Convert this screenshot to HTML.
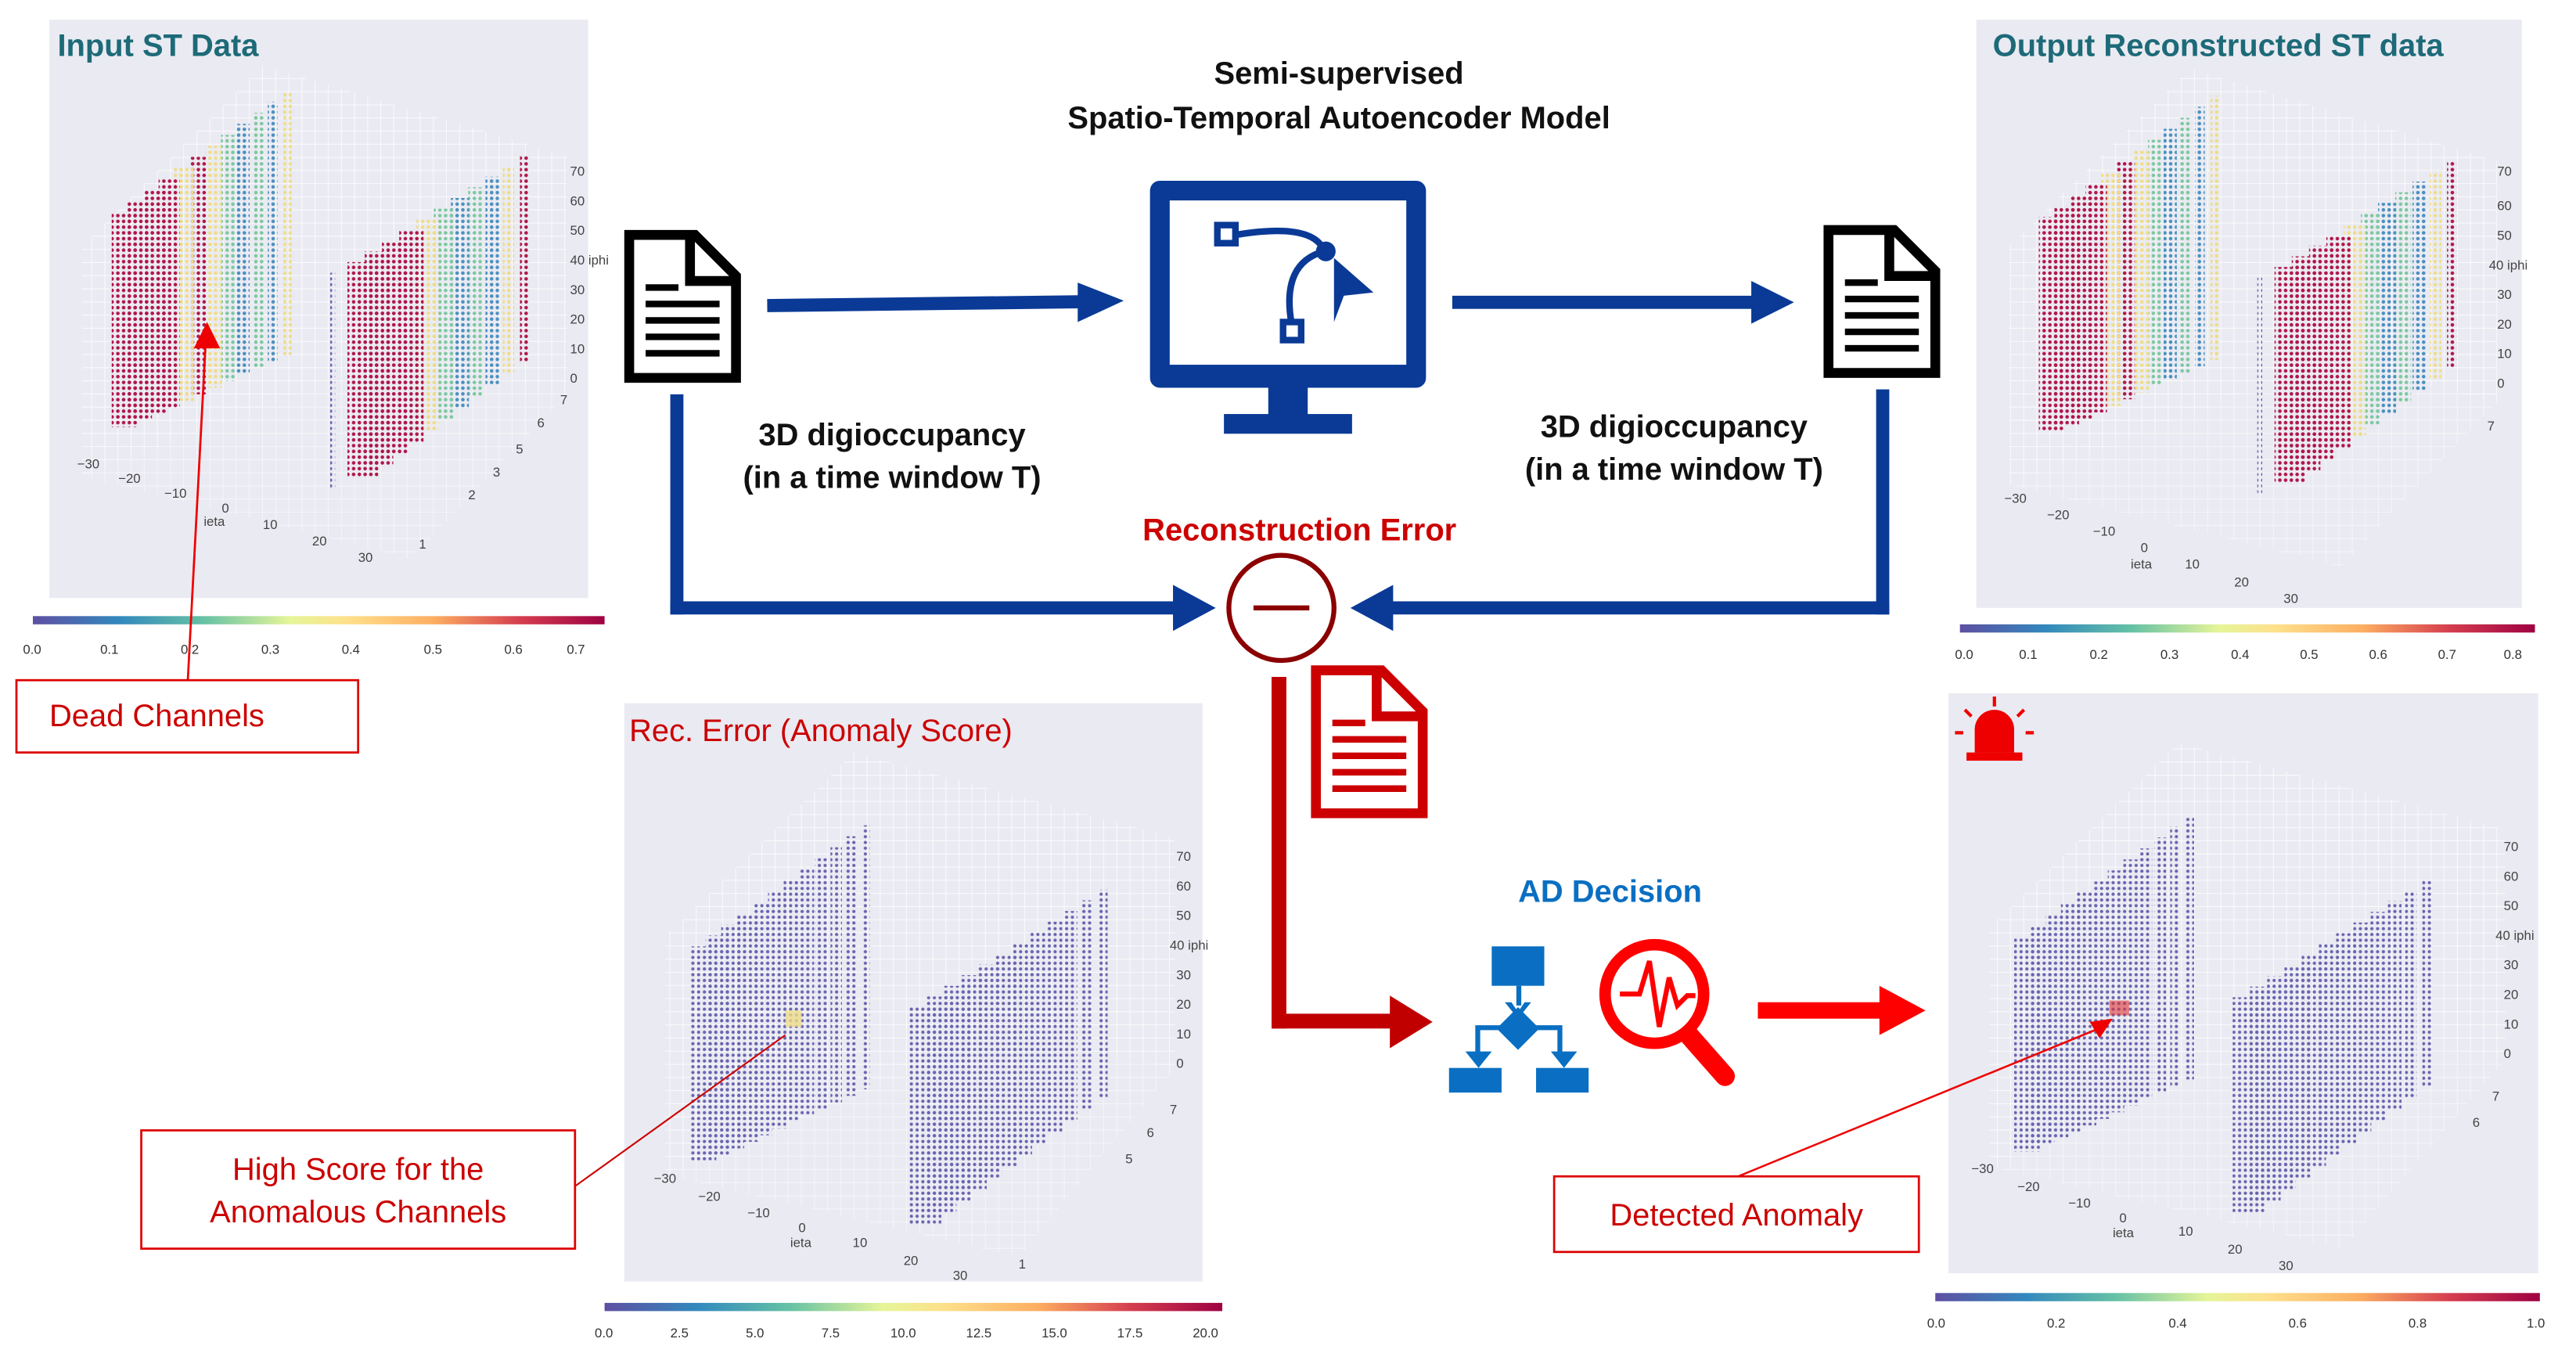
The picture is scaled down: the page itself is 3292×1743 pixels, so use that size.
<!DOCTYPE html>
<html><head><meta charset="utf-8"><style>
html,body{margin:0;padding:0;background:#fff}
svg{display:block}
text{font-family:"Liberation Sans",sans-serif}
</style></head><body>
<svg id="s" width="3292" height="1743" viewBox="0 0 1568 830.2" xmlns="http://www.w3.org/2000/svg">
<defs>
<linearGradient id="cb" x1="0" x2="1">
<stop offset="0" stop-color="#5e4fa2"/><stop offset="0.15" stop-color="#3288bd"/><stop offset="0.3" stop-color="#66c2a5"/><stop offset="0.45" stop-color="#e6f598"/><stop offset="0.55" stop-color="#fee08b"/><stop offset="0.7" stop-color="#fdae61"/><stop offset="0.85" stop-color="#d53e4f"/><stop offset="1" stop-color="#9e0142"/>
</linearGradient>
<pattern id="grid" width="8" height="8" patternUnits="userSpaceOnUse"><path d="M8 0V8M0 8H8" stroke="#fff" stroke-width="0.8" fill="none"/></pattern>
<pattern id="dR" width="3.5" height="3.5" patternUnits="userSpaceOnUse"><circle cx="1.75" cy="1.75" r="1.1" fill="#b0174a"/></pattern>
<pattern id="dY" width="3.5" height="3.5" patternUnits="userSpaceOnUse"><circle cx="1.75" cy="1.75" r="1.1" fill="#eedd88"/></pattern>
<pattern id="dG" width="3.5" height="3.5" patternUnits="userSpaceOnUse"><circle cx="1.75" cy="1.75" r="1.1" fill="#7cc8a0"/></pattern>
<pattern id="dB" width="3.5" height="3.5" patternUnits="userSpaceOnUse"><circle cx="1.75" cy="1.75" r="1.1" fill="#4a90c0"/></pattern>
<pattern id="dP" width="3.5" height="3.5" patternUnits="userSpaceOnUse"><circle cx="1.75" cy="1.75" r="1" fill="#6a64b0"/></pattern>
</defs>

<!-- ===== Input panel ===== -->
<rect x="30" y="12" width="328" height="352" fill="#eaeaf2"/>
<polygon points="50,150 160,40 345,95 345,240 245,215 50,290" fill="url(#grid)" opacity="0.9"/>
<polygon points="50,290 245,215 345,240 250,340" fill="url(#grid)" opacity="0.6"/>
<g id="in"></g>
<text x="35" y="34" font-size="19" font-weight="bold" fill="#1d6a78">Input ST Data</text>
<g font-size="8" fill="#444">
<text x="347" y="107">70</text><text x="347" y="125">60</text><text x="347" y="143">50</text><text x="347" y="161">40 iphi</text><text x="347" y="179">30</text><text x="347" y="197">20</text><text x="347" y="215">10</text><text x="347" y="233">0</text>
<text x="341" y="246">7</text><text x="327" y="260">6</text><text x="314" y="276">5</text><text x="300" y="290">3</text><text x="285" y="304">2</text><text x="255" y="334">1</text>
<text x="47" y="285">−30</text><text x="72" y="294">−20</text><text x="100" y="303">−10</text><text x="135" y="312">0</text><text x="124" y="320">ieta</text><text x="160" y="322">10</text><text x="190" y="332">20</text><text x="218" y="342">30</text>
</g>
<rect x="20" y="375" width="348" height="5" fill="url(#cb)"/>
<g font-size="8" fill="#333"><text x="14" y="398">0.0</text><text x="61" y="398">0.1</text><text x="110" y="398">0.2</text><text x="159" y="398">0.3</text><text x="208" y="398">0.4</text><text x="258" y="398">0.5</text><text x="307" y="398">0.6</text><text x="345" y="398">0.7</text></g>

<!-- ===== Output panel ===== -->
<rect x="1203" y="12" width="332" height="358" fill="#eaeaf2"/>
<polygon points="1223,150 1333,42 1520,98 1520,245 1418,220 1223,295" fill="url(#grid)" opacity="0.9"/>
<polygon points="1223,295 1418,220 1520,245 1425,345" fill="url(#grid)" opacity="0.6"/>
<g id="out"></g>
<text x="1213" y="34" font-size="19" font-weight="bold" fill="#1d6a78">Output Reconstructed ST data</text>
<g font-size="8" fill="#444">
<text x="1520" y="107">70</text><text x="1520" y="128">60</text><text x="1520" y="146">50</text><text x="1515" y="164">40 iphi</text><text x="1520" y="182">30</text><text x="1520" y="200">20</text><text x="1520" y="218">10</text><text x="1520" y="236">0</text>
<text x="1514" y="262">7</text><text x="1220" y="306">−30</text><text x="1246" y="316">−20</text><text x="1274" y="326">−10</text><text x="1303" y="336">0</text><text x="1297" y="346">ieta</text><text x="1330" y="346">10</text><text x="1360" y="357">20</text><text x="1390" y="367">30</text>
</g>
<rect x="1193" y="380" width="350" height="5" fill="url(#cb)"/>
<g font-size="8" fill="#333"><text x="1190" y="401">0.0</text><text x="1229" y="401">0.1</text><text x="1272" y="401">0.2</text><text x="1315" y="401">0.3</text><text x="1358" y="401">0.4</text><text x="1400" y="401">0.5</text><text x="1442" y="401">0.6</text><text x="1484" y="401">0.7</text><text x="1524" y="401">0.8</text></g>

<!-- ===== Rec error panel ===== -->
<rect x="380" y="428" width="352" height="352" fill="#eaeaf2"/>
<polygon points="405,570 520,458 715,510 715,650 610,630 405,715" fill="url(#grid)" opacity="0.9"/>
<polygon points="405,715 610,630 715,650 620,765" fill="url(#grid)" opacity="0.6"/>
<g id="rec"></g>
<rect x="478" y="615" width="10" height="10" fill="#eedd88" opacity="0.8"/>
<text x="383" y="451" font-size="19" fill="#c00">Rec. Error (Anomaly Score)</text>
<g font-size="8" fill="#444">
<text x="716" y="524">70</text><text x="716" y="542">60</text><text x="716" y="560">50</text><text x="712" y="578">40 iphi</text><text x="716" y="596">30</text><text x="716" y="614">20</text><text x="716" y="632">10</text><text x="716" y="650">0</text>
<text x="712" y="678">7</text><text x="698" y="692">6</text><text x="685" y="708">5</text><text x="398" y="720">−30</text><text x="425" y="731">−20</text><text x="455" y="741">−10</text><text x="486" y="750">0</text><text x="481" y="759">ieta</text><text x="519" y="759">10</text><text x="550" y="770">20</text><text x="580" y="779">30</text><text x="620" y="772">1</text>
</g>
<rect x="368" y="793" width="376" height="5" fill="url(#cb)"/>
<g font-size="8" fill="#333"><text x="362" y="814">0.0</text><text x="408" y="814">2.5</text><text x="454" y="814">5.0</text><text x="500" y="814">7.5</text><text x="542" y="814">10.0</text><text x="588" y="814">12.5</text><text x="634" y="814">15.0</text><text x="680" y="814">17.5</text><text x="726" y="814">20.0</text></g>
<line x1="350" y1="722" x2="478" y2="630" stroke="#c00" stroke-width="1"/>
<rect x="86" y="688" width="264" height="72" fill="#fff" stroke="#d00" stroke-width="1.3"/>
<text x="218" y="718" font-size="19" fill="#c00" text-anchor="middle">High Score for the</text>
<text x="218" y="744" font-size="19" fill="#c00" text-anchor="middle">Anomalous Channels</text>

<!-- ===== Detected panel ===== -->
<rect x="1186" y="422" width="359" height="353" fill="#eaeaf2"/>
<polygon points="1211,565 1326,452 1525,505 1525,645 1416,625 1211,710" fill="url(#grid)" opacity="0.9"/>
<polygon points="1211,710 1416,625 1525,645 1426,760" fill="url(#grid)" opacity="0.6"/>
<g id="det"></g>
<rect x="1284" y="609" width="12" height="9" fill="#d33" opacity="0.6"/>
<g fill="#e00" stroke="#e00">
<path d="M1202 458 v-14 a12 12 0 0 1 24 0 v14 z" stroke="none"/>
<rect x="1197" y="458" width="34" height="5" stroke="none"/>
<path d="M1214 430v-6M1200 436l-4-4M1228 436l4-4M1195 446h-5M1233 446h5" stroke-width="2" fill="none"/>
</g>
<g font-size="8" fill="#444">
<text x="1524" y="518">70</text><text x="1524" y="536">60</text><text x="1524" y="554">50</text><text x="1519" y="572">40 iphi</text><text x="1524" y="590">30</text><text x="1524" y="608">20</text><text x="1524" y="626">10</text><text x="1524" y="644">0</text>
<text x="1517" y="670">7</text><text x="1505" y="686">6</text><text x="1200" y="714">−30</text><text x="1228" y="725">−20</text><text x="1259" y="735">−10</text><text x="1290" y="744">0</text><text x="1286" y="753">ieta</text><text x="1326" y="752">10</text><text x="1356" y="763">20</text><text x="1387" y="773">30</text>
</g>
<rect x="1178" y="787" width="368" height="5" fill="url(#cb)"/>
<g font-size="8" fill="#333"><text x="1173" y="808">0.0</text><text x="1246" y="808">0.2</text><text x="1320" y="808">0.4</text><text x="1393" y="808">0.6</text><text x="1466" y="808">0.8</text><text x="1538" y="808">1.0</text></g>
<line x1="1058" y1="716" x2="1280" y2="625" stroke="#e00" stroke-width="1.2"/>
<polygon points="1286,620 1272,622 1278,632" fill="#e00"/>
<rect x="946" y="716" width="222" height="46" fill="#fff" stroke="#d00" stroke-width="1.3"/>
<text x="1057" y="746" font-size="19" fill="#c00" text-anchor="middle">Detected Anomaly</text>

<!-- dead channel annotation (on top of plot) -->
<line x1="114" y1="420" x2="125" y2="212" stroke="#e00" stroke-width="1.3"/>
<polygon points="126,196 118,212 134,212" fill="#e00"/>
<rect x="10" y="414" width="208" height="44" fill="#fff" stroke="#d00" stroke-width="1.3"/>
<text x="30" y="442" font-size="19" fill="#c00">Dead Channels</text>

<!-- ===== Center ===== -->
<text x="815" y="51" font-size="19" font-weight="bold" fill="#111" text-anchor="middle">Semi-supervised</text>
<text x="815" y="78" font-size="19" font-weight="bold" fill="#111" text-anchor="middle">Spatio-Temporal Autoencoder Model</text>

<g>
<path d="M383 143 h40 l25 25 v62 h-65 z" fill="#fff" stroke="#000" stroke-width="6"/>
<path d="M420 143 v28 h28" fill="none" stroke="#000" stroke-width="6"/>
<g stroke="#000" stroke-width="4"><line x1="393" y1="175" x2="413" y2="175"/><line x1="393" y1="185" x2="438" y2="185"/><line x1="393" y1="195" x2="438" y2="195"/><line x1="393" y1="205" x2="438" y2="205"/><line x1="393" y1="215" x2="438" y2="215"/></g>
</g>
<g transform="translate(730,-3)">
<path d="M383 143 h40 l25 25 v62 h-65 z" fill="#fff" stroke="#000" stroke-width="6"/>
<path d="M420 143 v28 h28" fill="none" stroke="#000" stroke-width="6"/>
<g stroke="#000" stroke-width="4"><line x1="393" y1="175" x2="413" y2="175"/><line x1="393" y1="185" x2="438" y2="185"/><line x1="393" y1="195" x2="438" y2="195"/><line x1="393" y1="205" x2="438" y2="205"/><line x1="393" y1="215" x2="438" y2="215"/></g>
</g>
<g transform="translate(418,265)">
<path d="M383 143 h40 l25 25 v62 h-65 z" fill="#fff" stroke="#c00" stroke-width="6"/>
<path d="M420 143 v28 h28" fill="none" stroke="#c00" stroke-width="6"/>
<g stroke="#c00" stroke-width="4"><line x1="393" y1="175" x2="413" y2="175"/><line x1="393" y1="185" x2="438" y2="185"/><line x1="393" y1="195" x2="438" y2="195"/><line x1="393" y1="205" x2="438" y2="205"/><line x1="393" y1="215" x2="438" y2="215"/></g>
</g>

<rect x="700" y="110" width="168" height="126" rx="6" fill="#0a3a96"/>
<rect x="712" y="122" width="144" height="100" fill="#fff"/>
<rect x="772" y="236" width="24" height="18" fill="#0a3a96"/>
<rect x="745" y="252" width="78" height="12" fill="#0a3a96"/>
<g stroke="#0a3a96" stroke-width="4" fill="none">
<rect x="741" y="137" width="11" height="11"/>
<rect x="781" y="196" width="11" height="11"/>
<path d="M752 143 Q800 135 806 153"/>
<path d="M786 196 Q780 160 806 153"/>
</g>
<circle cx="807" cy="153" r="6" fill="#0a3a96"/>
<polygon points="812,157 836,178 818,180 812,196" fill="#0a3a96"/>

<g fill="#0a3a96">
<rect x="467" y="182" width="190" height="8" transform="rotate(-0.7 467 186)"/>
<polygon points="656,172 684,183 656,196"/>
<rect x="884" y="180" width="184" height="8"/>
<polygon points="1066,171 1092,184 1066,197"/>
<rect x="408" y="240" width="8" height="134"/>
<rect x="408" y="366" width="310" height="8"/>
<polygon points="714,356 740,370 714,384"/>
<rect x="1142" y="237" width="8" height="137"/>
<rect x="846" y="366" width="304" height="8"/>
<polygon points="848,356 822,370 848,384"/>
</g>
<text x="543" y="271" font-size="19" font-weight="bold" fill="#111" text-anchor="middle">3D digioccupancy</text>
<text x="543" y="297" font-size="19" font-weight="bold" fill="#111" text-anchor="middle">(in a time window T)</text>
<text x="1019" y="266" font-size="19" font-weight="bold" fill="#111" text-anchor="middle">3D digioccupancy</text>
<text x="1019" y="292" font-size="19" font-weight="bold" fill="#111" text-anchor="middle">(in a time window T)</text>
<text x="791" y="329" font-size="19" font-weight="bold" fill="#c00" text-anchor="middle">Reconstruction Error</text>
<circle cx="780" cy="370" r="32" fill="#fff" stroke="#8b0000" stroke-width="3"/>
<line x1="763" y1="370" x2="797" y2="370" stroke="#8b0000" stroke-width="3"/>

<g fill="#c00000">
<rect x="774" y="412" width="9" height="214"/>
<rect x="774" y="617" width="74" height="9"/>
<polygon points="846,606 872,622 846,638"/>
</g>
<rect x="1070" y="610" width="76" height="10" fill="#f00"/>
<polygon points="1144,600 1172,615 1144,630" fill="#f00"/>

<text x="980" y="549" font-size="19" font-weight="bold" fill="#0a6fc2" text-anchor="middle">AD Decision</text>
<g fill="#0a6fc2">
<rect x="908" y="576" width="32" height="24"/>
<rect x="923" y="600" width="3" height="12"/>
<polygon points="916,610 924,620 932,610 928,610 924,616 920,610"/>
<polygon points="924,613 937,626 924,639 911,626"/>
<path d="M898 624h18v3h-15v16h-3z M932 624h19v19h-3v-16h-16z"/>
<polygon points="892,640 900,650 908,640"/>
<polygon points="944,640 952,650 960,640"/>
<rect x="882" y="650" width="32" height="15"/>
<rect x="935" y="650" width="32" height="15"/>
</g>
<circle cx="1007" cy="605" r="30" fill="none" stroke="#f00" stroke-width="7"/>
<line x1="1028" y1="630" x2="1050" y2="655" stroke="#f00" stroke-width="12" stroke-linecap="round"/>
<polyline points="986,605 998,605 1004,585 1010,625 1016,595 1021,612 1027,606 1032,606" fill="none" stroke="#f00" stroke-width="3"/>
</svg>
<script>
(function(){
var NS="http://www.w3.org/2000/svg";
function slabs(id,ox,oy,cols){
 var g=document.getElementById(id);
 function add(x,t,b,c,w){var r=document.createElementNS(NS,"rect");r.setAttribute("x",x+ox);r.setAttribute("y",t+oy);r.setAttribute("width",w);r.setAttribute("height",b-t);r.setAttribute("fill","url(#d"+c+")");g.appendChild(r);}
 var L=cols[0],R=cols[1],i;
 for(i=L.length-1;i>=0;i--){add(68+i*9.5,129-i*6.7,260-i*4,L[i],Math.max(5,16-i));}
 for(i=R.length-1;i>=0;i--){if(R[i]=="P"&&i==0&&id!="rec"&&id!="det"){add(201,166,298,"P",3);continue;}add(201+i*10.5+(i==0?0:0),166-i*6.5,298-i*7,R[i],Math.max(5,20-i*1.3));}
}
slabs("in",0,0,["RRRRYRYGBGBY","PRRRRYGBGBYR"]);
slabs("out",1173,3,["RRRRYRYGBGBY","PRRRRYGBGBYR"]);
var P="PPPPPPPPPPPP";
slabs("rec",352,447,[P,P]);
slabs("det",1158,441,[P,P]);
})();
</script>
</body></html>
